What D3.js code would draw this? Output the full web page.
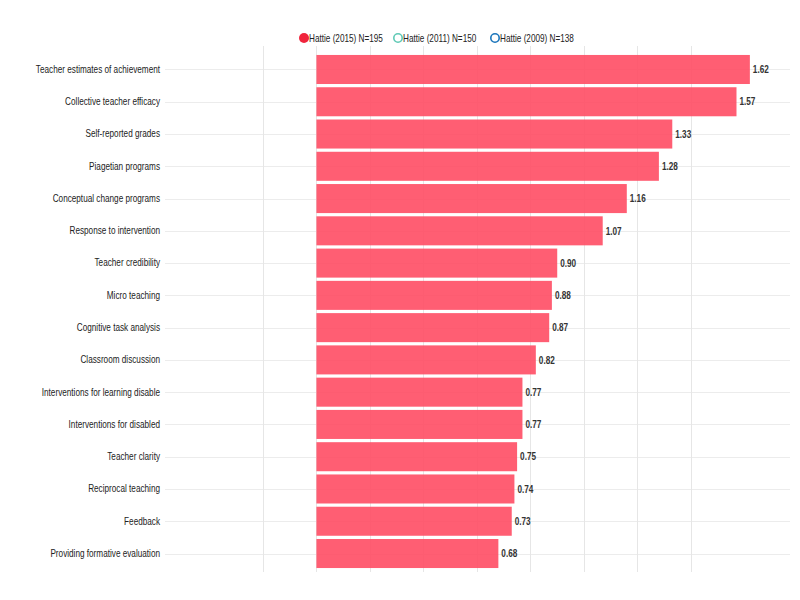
<!DOCTYPE html>
<html>
<head>
<meta charset="utf-8">
<script src="https://cdn.jsdelivr.net/npm/d3@7/dist/d3.min.js"></script>
<style>
  html, body { margin: 0; padding: 0; background: #fff; }
  svg { display: block; font-family: "Liberation Sans", Arial, Helvetica, sans-serif; }
</style>
</head>
<body>
<svg id="chart" width="800" height="600"></svg>
<script>
const categories = [
  "Teacher estimates of achievement",
  "Collective teacher efficacy",
  "Self-reported grades",
  "Piagetian programs",
  "Conceptual change programs",
  "Response to intervention",
  "Teacher credibility",
  "Micro teaching",
  "Cognitive task analysis",
  "Classroom discussion",
  "Interventions for learning disable",
  "Interventions for disabled",
  "Teacher clarity",
  "Reciprocal teaching",
  "Feedback",
  "Providing formative evaluation"
];
const values2015 = [1.62, 1.57, 1.33, 1.28, 1.16, 1.07, 0.90, 0.88, 0.87, 0.82, 0.77, 0.77, 0.75, 0.74, 0.73, 0.68];
const legendLabels = ["Hattie (2015) N=195", "Hattie (2011) N=150", "Hattie (2009) N=138"];
const gridTicks = [-0.2, 0, 0.2, 0.4, 0.6, 0.8, 1.0, 1.2, 1.4];

const SX = 0.78; // horizontal text compression seen in the reference

const svg = d3.select("#chart");

const plotLeft = 165, plotRight = 790;
const x = d3.scaleLinear().domain([-0.566, 1.77]).range([plotLeft, plotRight]);
const y = d3.scaleBand().domain(categories).range([54, 569]).paddingInner(0.1).paddingOuter(0.03);

// horizontal gridlines
svg.append("g").selectAll("line").data(categories).join("line")
  .attr("x1", plotLeft).attr("x2", plotRight)
  .attr("y1", d => Math.round(y(d) + y.bandwidth() / 2) + 0.5)
  .attr("y2", d => Math.round(y(d) + y.bandwidth() / 2) + 0.5)
  .attr("stroke", "#ececec").attr("stroke-width", 1);

// vertical gridlines
svg.append("g").selectAll("line").data(gridTicks).join("line")
  .attr("x1", d => Math.round(x(d)) + 0.5).attr("x2", d => Math.round(x(d)) + 0.5)
  .attr("y1", 46).attr("y2", 572)
  .attr("stroke", "#e6e6e6").attr("stroke-width", 1);

// bars
svg.append("g").selectAll("rect").data(values2015).join("rect")
  .attr("x", x(0))
  .attr("y", (d, i) => y(categories[i]))
  .attr("width", d => x(d) - x(0))
  .attr("height", y.bandwidth())
  .attr("fill", "#ff4d64")
  .attr("fill-opacity", 0.9);

// value labels
svg.append("g").selectAll("text").data(values2015).join("text")
  .attr("transform", (d, i) => `translate(${x(d) + 3},${y(categories[i]) + y.bandwidth() / 2}) scale(${SX},1)`)
  .attr("dy", "0.35em")
  .attr("font-size", 10.5)
  .attr("font-weight", "bold")
  .attr("fill", "#333")
  .text(d => d.toFixed(2));

// category labels
const yAxis = d3.axisLeft(y).tickSize(0).tickPadding(5);
const ga = svg.append("g").attr("transform", `translate(${plotLeft},0)`).call(yAxis);
ga.select(".domain").remove();
ga.selectAll("text")
  .attr("x", -5 / SX)
  .attr("transform", `scale(${SX},1)`)
  .attr("font-size", 10.5).attr("fill", "#222")
  .style("font-family", "'Liberation Sans', Arial, sans-serif");

// legend
const legendColors = ["#f0243c", "#5fc9b5", "#1b75bb"];
const legendX = [304, 398, 495];
const lg = svg.append("g");
legendLabels.forEach((lab, i) => {
  const g = lg.append("g").attr("transform", `translate(${legendX[i]},38)`);
  if (i === 0) {
    g.append("circle").attr("r", 5).attr("fill", legendColors[i]);
  } else {
    g.append("circle").attr("r", 4.2).attr("fill", "none")
      .attr("stroke", legendColors[i]).attr("stroke-width", 1.6);
  }
  g.append("text").attr("transform", `translate(5,0) scale(${SX},1)`).attr("dy", "0.35em")
    .attr("font-size", 10.5).attr("fill", "#222").text(lab);
});
</script>
</body>
</html>
